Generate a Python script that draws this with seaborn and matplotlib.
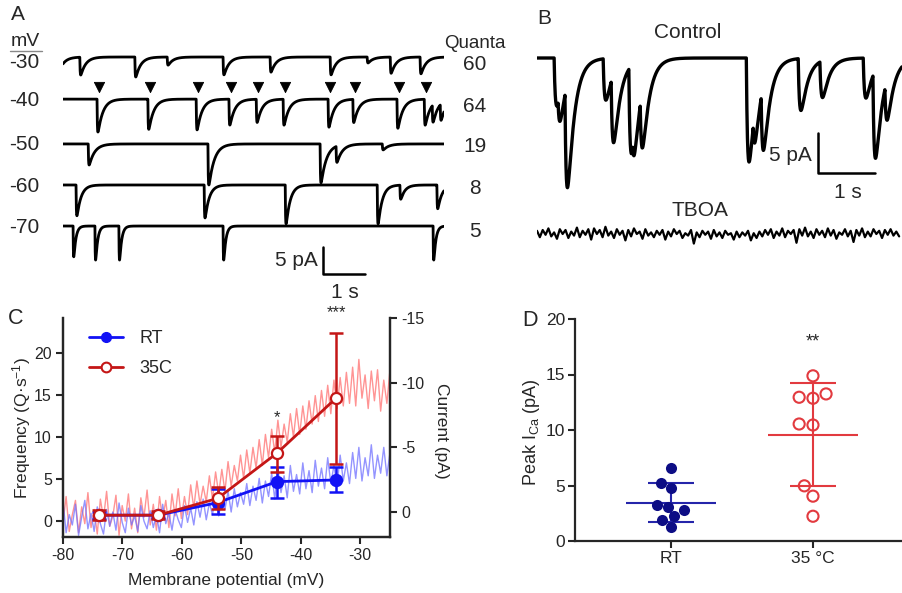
import numpy as np
import pandas as pd
import seaborn as sns
import matplotlib.pyplot as plt
from matplotlib.lines import Line2D

W, H = 902, 593

# ---- panel A: quantal events at each holding potential (time s, amplitude pA)
a_potentials = ["-30", "-40", "-50", "-60", "-70"]
a_quanta = ["60", "64", "19", "8", "5"]
a_events = [
    [(-0.05, 1.5), (0.40, 3.3), (1.71, 3.7), (2.48, 1.5), (3.81, 3.3), (4.93, 2.8),
     (6.36, 3.3), (7.24, 1.1), (7.79, 3.0), (8.50, 3.1)],
    [(0.81, 6.1), (2.02, 5.6), (3.17, 5.7), (3.95, 4.8), (4.60, 4.3), (5.24, 4.8),
     (6.31, 5.2), (6.90, 4.3), (7.95, 5.4), (8.60, 4.8), (8.79, 3.2), (8.98, 3.0)],
    [(0.60, 3.9), (3.45, 7.6), (6.12, 7.2), (6.50, 3.0), (7.60, 1.1)],
    [(0.31, 5.7), (3.36, 6.1), (5.29, 7.2), (7.48, 7.2), (8.02, 2.6), (8.90, 4.4)],
    [(0.24, 5.7), (0.76, 6.3), (1.33, 6.3), (3.81, 6.3), (8.81, 6.3)],
]
a_decay = [0.12, 0.12, 0.13, 0.10, 0.05]
a_marked = [0.81, 2.02, 3.17, 3.95, 4.60, 5.24, 6.31, 6.90, 7.95, 8.60]  # arrowheads on -40 row

# ---- panel B: control events (time s, amplitude pA) and TBOA noise (pA, 0.05 s steps)
b_control = [(0.30, 6.0), (0.37, 3.5), (0.49, 13.0), (1.16, 5.2), (1.30, 8.5), (1.61, 11.0),
             (1.68, 3.0), (1.81, 7.0), (3.67, 13.0), (3.79, 4.0), (3.93, 8.0), (4.58, 6.5),
             (4.96, 4.6), (5.72, 5.0), (5.89, 11.0), (6.10, 5.0)]
b_tboa = [0.3, -0.5, 0.4, -0.2, 0.6, -0.4, 0.1, -0.7, 0.5, -0.1, 0.4, -0.6, 0.2, -0.3, 0.7, -0.5, 0.3, -0.2, 0.5, -0.8,
          0.6, -0.1, 0.4, -0.5, 0.8, -0.3, 0.2, -0.6, 0.5, -0.2, 0.3, -0.9, 0.4, -0.4, 0.6, -0.1, 0.2, -0.7, 0.5, -0.3,
          0.1, -0.5, 0.3, -0.2, 0.4, -0.8, 0.2, -0.4, 0.5, -0.1, 0.3, -0.6, 0.0, -0.3, 0.4, -1.3, 0.1, -0.5, 0.3, -0.2,
          0.2, -0.7, 0.4, -0.4, 0.1, -0.6, 0.3, -0.2, 0.0, -0.8, 0.2, -0.5, 0.1, -0.3, 0.3, -0.9, 0.0, -0.6, 0.2, -0.4,
          0.4, -0.2, 0.5, -0.6, 0.2, -0.3, 0.6, -0.5, 0.3, -0.1, 0.4, -1.2, 0.5, -0.3, 0.7, -0.4, 0.2, -0.6, 0.5, -0.2,
          0.3, -0.5, 0.6, -0.3, 0.4, -0.7, 0.1, -0.2, 0.5, -0.4, 0.3, -1.1, 0.4, -0.3, 0.6, -0.5, 0.2, -0.4, 0.5, -0.1,
          0.3, -0.6, 0.4, -0.2, 0.5, -0.3, 0.2, -0.4]

# ---- panel C: frequency vs membrane potential, plus current ramps
c_voltage = [-74, -64, -54, -44, -34]
c_rt_mean = [0.7, 0.7, 2.2, 4.7, 4.9]
c_rt_low = [0.3, 0.4, 0.8, 2.8, 3.5]
c_rt_high = [1.1, 1.0, 3.8, 6.5, 6.4]
c_35_mean = [0.7, 0.7, 2.7, 8.1, 14.7]
c_35_low = [0.1, 0.2, 1.4, 5.8, 6.8]
c_35_high = [1.3, 1.2, 4.0, 10.1, 22.4]
c_ramp_35 = [0.8, -1.2, 1.5, 0.2, -0.9, 1.6, -0.4, 0.9, -1.5, 1.2, -0.2, 1.7, -1.0, 0.5, -1.6, 1.1,
             0.3, -1.3, 1.8, -0.5, 0.7, -1.4, 1.3, -0.3, 1.6, -1.1, 0.4, -1.7, 1.0, -0.6, 1.4, -1.2,
             0.6, -0.9, 1.2, -1.4, 0.3, -1.8, 0.5, -1.2, 0.2, -2.1, -0.3, -2.4, -0.6, -2.0, -0.8, -2.8,
             -1.0, -3.1, -1.4, -3.3, -1.6, -3.9, -2.0, -3.6, -2.4, -4.4, -2.6, -4.8, -3.0, -5.0, -3.4, -5.6,
             -3.6, -6.0, -4.2, -6.4, -4.6, -7.1, -5.0, -6.8, -5.4, -7.6, -5.8, -8.0, -6.0, -8.2, -6.4, -8.6,
             -6.8, -9.0, -7.0, -9.4, -7.4, -9.8, -7.6, -10.2, -8.0, -10.4, -8.2, -10.8, -8.4, -11.2, -8.2, -11.8,
             -8.8, -10.6, -8.0, -10.9, -8.6, -11.0, -7.8, -10.2, -8.4, -11.0]
c_ramp_rt = [-0.8, 1.6, 0.2, 1.0, -0.6, 1.8, 0.4, -0.9, 1.3, 0.1, 1.5, -0.4, 0.9, 1.7, -0.2, 1.1,
             0.0, 1.4, -0.7, 0.8, 1.6, -0.3, 1.0, 0.3, 1.5, -0.5, 0.7, 1.3, -0.1, 1.2, 0.2, 1.6,
             -0.6, 0.9, 0.1, 1.4, -0.2, 0.6, 1.2, -0.5, 0.8, -0.3, 1.0, -0.8, 0.4, -1.0, 0.6, -0.7,
             0.2, -1.3, 0.3, -1.1, -0.2, -1.6, 0.0, -1.8, -0.4, -1.5, -0.6, -2.2, -0.5, -2.0, -0.9, -2.6,
             -0.7, -2.4, -1.2, -3.0, -1.0, -3.4, -1.5, -2.8, -1.1, -3.6, -1.6, -2.9, -1.4, -3.8, -1.8, -3.2,
             -1.5, -4.0, -2.0, -3.4, -1.8, -4.2, -2.2, -3.6, -2.0, -4.4, -2.4, -3.8, -2.2, -4.6, -2.6, -5.0,
             -2.4, -4.2, -2.8, -5.2, -2.6, -4.4, -3.0, -5.0, -2.8, -4.6]
c_ramp_v = np.linspace(-80, -25, len(c_ramp_35))

# ---- panel D: peak calcium current per cell
d_rt = [6.6, 5.24, 4.8, 3.07, 2.77, 3.28, 2.23, 1.93, 1.27]
d_35 = [14.88, 12.95, 12.86, 13.25, 10.45, 10.54, 4.97, 4.04, 2.23]
d_groups = ["RT", "35 °C"]

blue, red = "#1212f5", "#c41616"
navy, dred = "#0d0d85", "#e23a3f"

sns.set_theme(style="ticks")
plt.rcParams["font.family"] = ["Liberation Sans", "DejaVu Sans"]
plt.rcParams["mathtext.fontset"] = "custom"
plt.rcParams["mathtext.rm"] = "Liberation Sans"
plt.rcParams["mathtext.it"] = "Liberation Sans"

fig = plt.figure(figsize=(W / 100, H / 100), dpi=100)


def box(x0, y0, x1, y1):
    return [x0 / W, 1 - y1 / H, (x1 - x0) / W, (y1 - y0) / H]


def ftext(x, y, s, **kw):
    fig.text(x / W, 1 - y / H, s, **kw)


def synth(t, events, tau, rise):
    kt = np.linspace(0, 10 * tau, 4000)
    norm = np.max((1 - np.exp(-kt / rise)) * np.exp(-kt / tau))
    y = np.zeros_like(t)
    for t0, amp in events:
        dt = t - t0
        m = dt > 0
        y[m] -= amp * (1 - np.exp(-dt[m] / rise)) * np.exp(-dt[m] / tau) / norm
    return y


# ---------------- A
axA = fig.add_axes(box(63, 40, 444, 300))
tA = np.arange(0, 9.07, 0.002)
a_offsets = [0.0, -7.8, -16.1, -23.7, -31.3]
for ev, off, tau in zip(a_events, a_offsets, a_decay):
    sns.lineplot(x=tA, y=off + synth(tA, ev, tau, 0.008), ax=axA, color="black",
                 lw=2.0, estimator=None, sort=False)
sns.scatterplot(x=np.array(a_marked) + 0.05, y=[a_offsets[1] + 2.3] * len(a_marked), ax=axA,
                marker="v", s=55, color="black", edgecolor="black")
axA.plot([6.19, 6.19, 7.19], [-35.2, -40.2, -40.2], color="black", lw=1.8)
axA.set_xlim(0, 9.07)
axA.set_ylim(-45, 3.15)
axA.axis("off")

ftext(11, 15, "A", fontsize=15, ha="left", va="center")
ftext(11, 42, "mV", fontsize=14, ha="left", va="center")
fig.add_artist(Line2D([10 / W, 42 / W], [1 - 51 / H] * 2, color="#888888", lw=1))
for lab, yy in zip(a_potentials, [63, 101, 145, 186, 228]):
    ftext(9, yy, lab, fontsize=15, ha="left", va="center")
ftext(475, 44, "Quanta", fontsize=13.5, ha="center", va="center")
for q, yy in zip(a_quanta, [65, 107, 146, 188, 231]):
    ftext(475, yy, q, fontsize=15, ha="center", va="center")
ftext(318, 260, "5 pA", fontsize=15, ha="right", va="center")
ftext(345, 292, "1 s", fontsize=15, ha="center", va="center")

# ---------------- B
axB = fig.add_axes(box(537, 40, 902, 250))
tB = np.arange(0, 6.4, 0.002)
sns.lineplot(x=tB, y=synth(tB, b_control, 0.12, 0.03), ax=axB, color="black", lw=2.4,
             estimator=None, sort=False)
tT = np.arange(len(b_tboa)) * 0.05
sns.lineplot(x=tT, y=-21.9 + np.array(b_tboa), ax=axB, color="black", lw=1.6,
             estimator=None, sort=False)
axB.plot([4.93, 4.93, 5.93], [-9.4, -14.4, -14.4], color="black", lw=1.8)
axB.set_xlim(0, 6.4)
axB.set_ylim(-24, 2.25)
axB.axis("off")
ftext(537, 18, "B", fontsize=15, ha="left", va="center")
ftext(688, 33, "Control", fontsize=15, ha="center", va="center")
ftext(700, 211, "TBOA", fontsize=15, ha="center", va="center")
ftext(812, 155, "5 pA", fontsize=15, ha="right", va="center")
ftext(848, 192, "1 s", fontsize=15, ha="center", va="center")

# ---------------- C
axC = fig.add_axes(box(63, 318, 390, 537))
axC2 = axC.twinx()
sns.lineplot(x=c_ramp_v, y=c_ramp_35, ax=axC2, color="#ff7070", alpha=0.75, lw=1.0,
             estimator=None, sort=False)
sns.lineplot(x=c_ramp_v, y=c_ramp_rt, ax=axC2, color="#7070ff", alpha=0.75, lw=1.0,
             estimator=None, sort=False)
axC.set_zorder(axC2.get_zorder() + 1)
axC.patch.set_visible(False)

for mean, lo, hi, col, face in [(c_rt_mean, c_rt_low, c_rt_high, blue, blue),
                                 (c_35_mean, c_35_low, c_35_high, red, "white")]:
    mean = np.array(mean)
    err = [mean - np.array(lo), np.array(hi) - mean]
    axC.errorbar(c_voltage, mean, yerr=err, fmt="none", ecolor=col, elinewidth=1.8,
                 capsize=5, capthick=1.8)
    sns.lineplot(x=c_voltage, y=mean, ax=axC, color=col, lw=2, marker="o", markersize=8,
                 markerfacecolor=face, markeredgecolor=col, markeredgewidth=1.6)

axC.text(-44, 12.3, "*", ha="center", va="center", fontsize=12)
axC.text(-34, 24.9, "***", ha="center", va="center", fontsize=12, clip_on=False)
axC.set_xlim(-80, -25)
axC.set_ylim(-1.9, 24.2)
axC2.set_ylim(1.93, -15.0)
axC.set_xticks(range(-80, -29, 10))
axC.set_yticks([0, 5, 10, 15, 20])
axC2.set_yticks([-15, -10, -5, 0])
axC2.set_yticklabels(["-15", "-10", "-5", "0"])
axC.set_xlabel("")
axC.set_ylabel("")
axC2.set_ylabel("")
for a in (axC, axC2):
    a.spines["top"].set_visible(False)
    for s in a.spines.values():
        s.set_linewidth(1.6)
    a.tick_params(width=1.5, length=5, labelsize=11.5, pad=3)
axC.set_xticklabels([str(v) for v in range(-80, -29, 10)])

handles = [Line2D([], [], color=blue, lw=2, marker="o", markersize=7),
           Line2D([], [], color=red, lw=2, marker="o", markersize=7, markerfacecolor="white",
                  markeredgewidth=1.5)]
axC.legend(handles, ["RT", "35C"], loc="upper left", bbox_to_anchor=(0.03, 1.02),
           frameon=False, fontsize=13, handlelength=1.9, labelspacing=0.75, handletextpad=0.9)
ftext(8, 319, "C", fontsize=15.5, ha="left", va="center")
ftext(22, 428, "Frequency (Q·s$^{-1}$)", fontsize=12.5, rotation=90, ha="center", va="center")
ftext(441, 431, "Current (pA)", fontsize=12.5, rotation=-90, ha="center", va="center")
ftext(226, 580, "Membrane potential (mV)", fontsize=12.5, ha="center", va="center")

# ---------------- D
axD = fig.add_axes(box(575, 319, 902, 541))
df_d = pd.DataFrame({"group": ["RT"] * len(d_rt) + ["35 °C"] * len(d_35),
                     "value": d_rt + d_35})
sns.swarmplot(data=df_d[df_d.group == "RT"], x="group", y="value", order=d_groups,
              color=navy, size=8, ax=axD)
sns.swarmplot(data=df_d[df_d.group == "35 °C"], x="group", y="value", order=d_groups,
              color=dred, size=8, ax=axD)
pts = axD.collections[-1]
pts.set_facecolor("none")
pts.set_edgecolor(dred)
pts.set_linewidth(1.5)

stats = df_d.groupby("group")["value"].agg(["mean", "std"])
for i, (g, col) in enumerate(zip(d_groups, ["#2525aa", dred])):
    m, sd = stats.loc[g, "mean"], stats.loc[g, "std"]
    axD.hlines(m, i - 0.32, i + 0.32, color=col, lw=1.5)
    axD.hlines([m - sd, m + sd], i - 0.165, i + 0.165, color=col, lw=1.5)
    axD.vlines(i, m - sd, m + sd, color=col, lw=1.5)
axD.text(1, 17.9, "**", ha="center", va="center", fontsize=13)
axD.set_xlim(-0.676, 1.627)
axD.set_ylim(0, 20)
axD.set_yticks([0, 5, 10, 15, 20])
axD.set_xlabel("")
axD.set_ylabel("")
axD.spines["top"].set_visible(False)
axD.spines["right"].set_visible(False)
for s in axD.spines.values():
    s.set_linewidth(1.6)
axD.tick_params(width=1.5, length=5, labelsize=12.5, pad=2)
ftext(522, 320, "D", fontsize=15.5, ha="left", va="center")
ftext(531, 432, "Peak I$_{\\mathrm{Ca}}$ (pA)", fontsize=13, rotation=90, ha="center", va="center")

fig.savefig("out.png", dpi=100)
